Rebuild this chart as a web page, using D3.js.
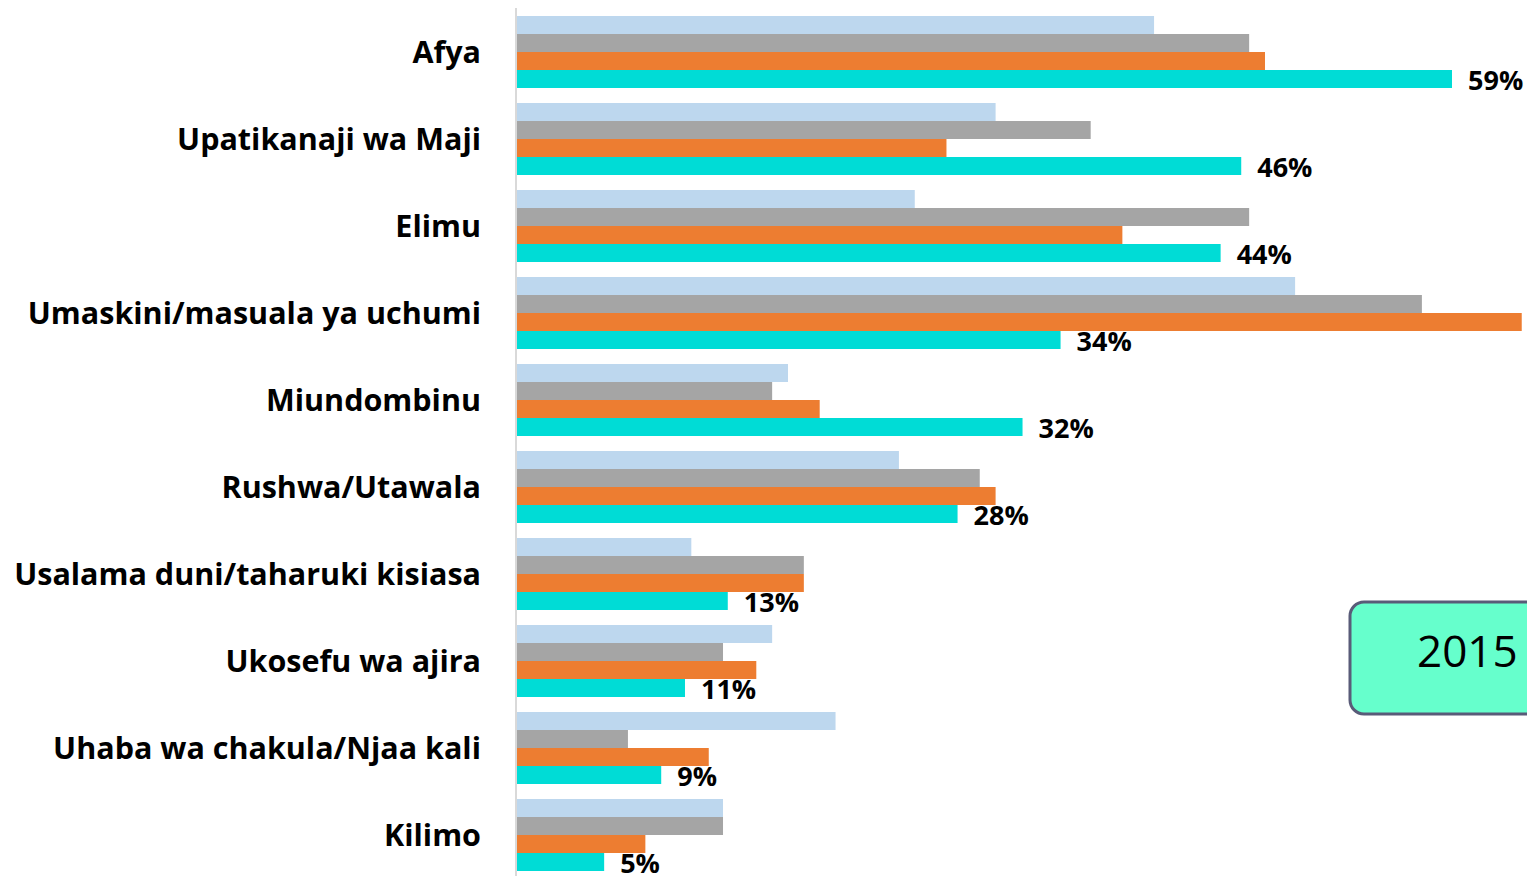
<!DOCTYPE html>
<html lang="en">
<head>
  <meta charset="UTF-8" />
  <title>2015</title>
  <style>
    body { margin: 0; background: #fff; }
    .cat-label { font-family: "Open Sans", sans-serif; font-weight: bold; font-size: 30.5px; fill: #000; }
    .val-label { font-family: "Open Sans", sans-serif; font-weight: bold; font-size: 27px; fill: #000; }
    .year-text { font-family: "Open Sans", sans-serif; font-size: 44px; fill: #000; }
  </style>
</head>
<body>
  <script src="https://cdn.jsdelivr.net/npm/d3@7"></script>
  <script>
    var w = 1527;
    var h = 876;

    var categories = ["Afya", "Upatikanaji wa Maji", "Elimu", "Umaskini/masuala ya uchumi", "Miundombinu",
      "Rushwa/Utawala", "Usalama duni/taharuki kisiasa", "Ukosefu wa ajira", "Uhaba wa chakula/Njaa kali", "Kilimo"];
    var seriesNames = ["s1", "s2", "s3", "s4"];
    var s1 = [40.2, 30.2, 25.1, 49.1, 17.1, 24.1, 11, 16.1, 20.1, 13];
    var s2 = [46.2, 36.2, 46.2, 57.1, 16.1, 29.2, 18.1, 13, 7, 13];
    var s3 = [47.2, 27.1, 38.2, 63.4, 19.1, 30.2, 18.1, 15.1, 12.1, 8.1];
    var s4 = [59, 45.7, 44.4, 34.3, 31.9, 27.8, 13.3, 10.6, 9.1, 5.5];
    var s4Labels = ["59%", "46%", "44%", "34%", "32%", "28%", "13%", "11%", "9%", "5%"];
    var colors = ["#BDD7EE", "#A5A5A5", "#ED7D31", "#00DCD6"];
    var yearText = "2015";

    var allSeries = [s1, s2, s3, s4];

    var svg = d3.select("body").append("svg")
      .attr("width", w)
      .attr("height", h);

    var xScale = d3.scaleLinear()
      .domain([0, 59])
      .range([517, 1452]);

    var yScale = d3.scaleBand()
      .domain(categories)
      .range([16, 871])
      .paddingInner(15 / 87)
      .paddingOuter(0);

    var subScale = d3.scaleBand()
      .domain(seriesNames)
      .range([0, yScale.bandwidth()]);

    // axis line
    svg.append("line")
      .attr("x1", 516).attr("x2", 516)
      .attr("y1", 8).attr("y2", h)
      .attr("stroke", "#d9d9d9")
      .attr("stroke-width", 2);

    var groups = svg.selectAll("g.cat")
      .data(categories)
      .enter()
      .append("g")
      .attr("class", "cat")
      .attr("transform", function(d) { return "translate(0," + yScale(d) + ")"; });

    groups.each(function(cat, i) {
      var g = d3.select(this);
      seriesNames.forEach(function(s, j) {
        g.append("rect")
          .attr("x", xScale(0))
          .attr("y", subScale(s))
          .attr("width", xScale(allSeries[j][i]) - xScale(0))
          .attr("height", subScale.bandwidth())
          .attr("fill", colors[j]);
      });

      g.append("text")
        .attr("class", "cat-label")
        .attr("x", 481)
        .attr("y", yScale.bandwidth() / 2)
        .attr("dy", "0.35em")
        .attr("text-anchor", "end")
        .text(cat);

      g.append("text")
        .attr("class", "val-label")
        .attr("x", xScale(s4[i]) + 16)
        .attr("y", subScale("s4") + subScale.bandwidth() / 2 + 2)
        .attr("dy", "0.35em")
        .text(s4Labels[i]);
    });

    // year box
    svg.append("rect")
      .attr("x", 1350)
      .attr("y", 602)
      .attr("width", 220)
      .attr("height", 112)
      .attr("rx", 14)
      .attr("fill", "#66FFCC")
      .attr("stroke", "#595B78")
      .attr("stroke-width", 3);

    svg.append("text")
      .attr("class", "year-text")
      .attr("x", 1417)
      .attr("y", 652)
      .attr("dy", "0.35em")
      .text(yearText);
  </script>
</body>
</html>
